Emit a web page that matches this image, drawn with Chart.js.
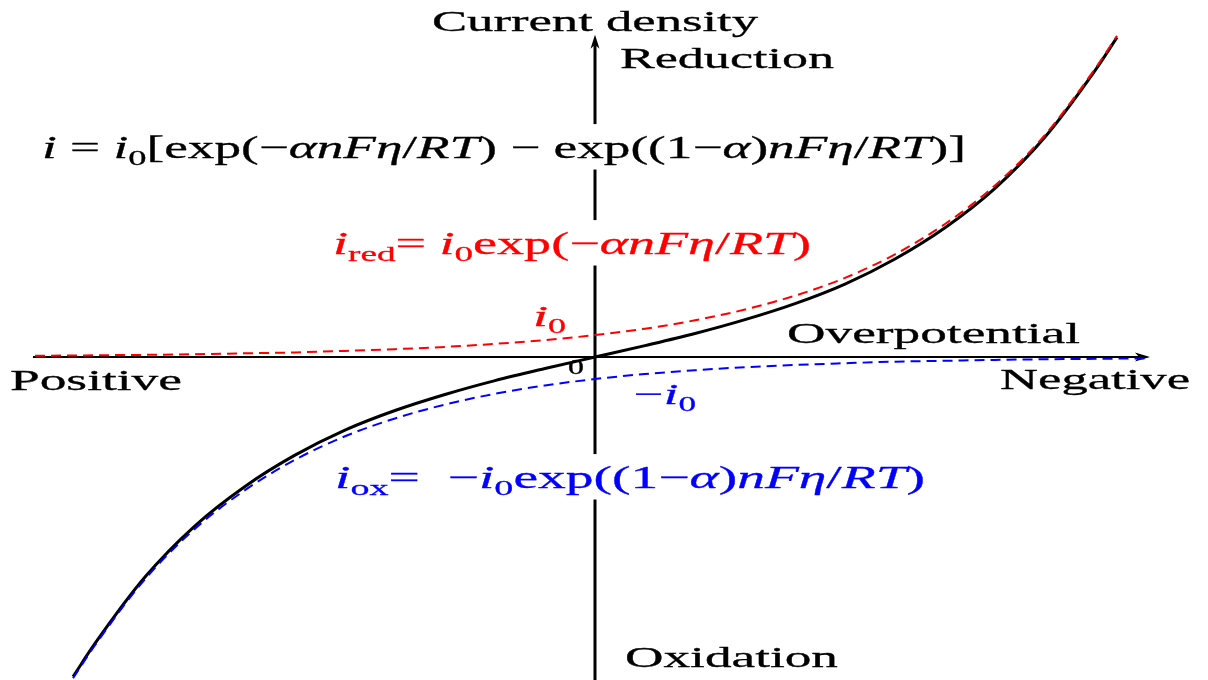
<!DOCTYPE html>
<html>
<head>
<meta charset="utf-8">
<script src="https://cdn.jsdelivr.net/npm/chart.js@4"></script>
<style>
  html, body { margin: 0; padding: 0; background: #fff; }
  #wrap { width: 1208px; height: 680px; position: relative; }
</style>
</head>
<body>
<div id="wrap"><canvas id="bv"></canvas></div>
<script>
// overpotential (V), positive to the left, negative to the right
const eta = [0.56, 0.522, 0.50, 0.45, 0.40, 0.35, 0.30, 0.25, 0.20, 0.15, 0.10, 0.05, 0,
  -0.05, -0.10, -0.15, -0.20, -0.25, -0.30, -0.35, -0.40, -0.45, -0.50, -0.522, -0.555];

// currents in units of i0
const iRed = [0.06, 0.07, 0.08, 0.10, 0.13, 0.17, 0.21, 0.28, 0.36, 0.46, 0.60, 0.77, 1.00,
  1.29, 1.67, 2.16, 2.79, 3.60, 4.67, 6.05, 7.80, 10.1, 13.1, 14.6, null];
const iOx = [null, -14.6, -13.1, -10.1, -7.80, -6.05, -4.67, -3.60, -2.79, -2.16, -1.67, -1.29, -1.00,
  -0.77, -0.60, -0.46, -0.36, -0.28, -0.21, -0.17, -0.13, -0.10, -0.08, -0.07, -0.06];
const iNet = [null, -14.53, -13.02, -10.0, -7.67, -5.88, -4.46, -3.32, -2.43, -1.70, -1.07, -0.52, 0,
  0.52, 1.07, 1.70, 2.43, 3.32, 4.46, 5.88, 7.67, 10.0, 13.02, 14.53, null];

// axis extents
const axisEta = [0.562, -0.555];
const axisCurrent = [-14.7, 14.65];

const serif = '"Liberation Serif", "DejaVu Serif", serif';

function pts(ys) {
  return eta.map((x, i) => ({ x, y: ys[i] }));
}

// rich text labels: parts with italic / subscript runs
const labels = [
  { x: 432, y: 31, w: 326, size: 30, color: '#000', parts: [{ t: 'Current density' }] },
  { x: 620, y: 68, w: 214, size: 30, color: '#000', parts: [{ t: 'Reduction' }] },
  { x: 42, y: 158, w: 924, size: 32, color: '#000', bg: true, parts: [
    { t: 'i', it: 1 }, { t: ' = ' }, { t: 'i', it: 1 }, { t: '0', sub: 1 }, { t: '[exp(−' },
    { t: 'αnFη', it: 1 }, { t: '/' }, { t: 'RT', it: 1 }, { t: ') − exp((1−' }, { t: 'α', it: 1 },
    { t: ')' }, { t: 'nFη', it: 1 }, { t: '/' }, { t: 'RT', it: 1 }, { t: ')]' }] },
  { x: 333, y: 254, w: 478, size: 32, color: '#ff0000', bg: true, parts: [
    { t: 'i', it: 1 }, { t: 'red', sub: 1 }, { t: '= ' }, { t: 'i', it: 1 }, { t: '0', sub: 1 },
    { t: 'exp(−' }, { t: 'αnFη', it: 1 }, { t: '/' }, { t: 'RT', it: 1 }, { t: ')' }] },
  { x: 533, y: 326, w: 33, size: 30, color: '#ff0000', parts: [{ t: 'i', it: 1 }, { t: '0', sub: 1 }] },
  { x: 787, y: 343, w: 293, size: 30, color: '#000', parts: [{ t: 'Overpotential' }] },
  { x: 10, y: 390, w: 172, size: 30, color: '#000', parts: [{ t: 'Positive' }] },
  { x: 1000, y: 389, w: 190, size: 30, color: '#000', parts: [{ t: 'Negative' }] },
  { x: 568, y: 374, w: 16, size: 20, color: '#000', parts: [{ t: '0' }] },
  { x: 634, y: 404, w: 62, size: 30, color: '#0000ff', parts: [{ t: '−' }, { t: 'i', it: 1 }, { t: '0', sub: 1 }] },
  { x: 335, y: 488, w: 590, size: 32, color: '#0000ff', bg: true, parts: [
    { t: 'i', it: 1 }, { t: 'ox', sub: 1 }, { t: '=  −' }, { t: 'i', it: 1 }, { t: '0', sub: 1 },
    { t: 'exp((1−' }, { t: 'α', it: 1 }, { t: ')' }, { t: 'nFη', it: 1 }, { t: '/' }, { t: 'RT', it: 1 }, { t: ')' }] },
  { x: 625, y: 667, w: 213, size: 30, color: '#000', parts: [{ t: 'Oxidation' }] }
];

function fontFor(p, size) {
  const s = p.sub ? Math.round(size * 0.68) : size;
  return (p.it ? 'italic ' : '') + s + 'px ' + serif;
}

function drawLabel(ctx, lbl) {
  let natural = 0;
  const widths = lbl.parts.map(p => {
    ctx.font = fontFor(p, lbl.size);
    const w = ctx.measureText(p.t).width;
    natural += w;
    return w;
  });
  const sx = lbl.w / natural;
  ctx.save();
  ctx.translate(lbl.x, lbl.y);
  ctx.scale(sx, 1);
  ctx.fillStyle = lbl.color;
  ctx.strokeStyle = lbl.color;
  ctx.lineWidth = 0.3;
  ctx.lineJoin = 'round';
  ctx.textBaseline = 'alphabetic';
  let cx = 0;
  lbl.parts.forEach((p, i) => {
    ctx.font = fontFor(p, lbl.size);
    const dy = p.sub ? lbl.size * 0.22 : 0;
    ctx.fillText(p.t, cx, dy);
    ctx.strokeText(p.t, cx, dy);
    cx += widths[i];
  });
  ctx.restore();
}

const axesPlugin = {
  id: 'bvAxes',
  beforeDatasetsDraw(chart) {
    const { ctx, scales: { x, y } } = chart;
    const x0 = x.getPixelForValue(0);
    const y0 = y.getPixelForValue(0);
    const xl = x.getPixelForValue(axisEta[0]);
    const xr = x.getPixelForValue(axisEta[1]);
    const yb = y.getPixelForValue(axisCurrent[0]);
    const yt = y.getPixelForValue(axisCurrent[1]);
    ctx.save();
    ctx.fillStyle = '#000';
    ctx.strokeStyle = '#000';

    // overpotential axis
    ctx.lineWidth = 2;
    ctx.beginPath();
    ctx.moveTo(xl, y0);
    ctx.lineTo(xr - 6, y0);
    ctx.stroke();
    ctx.beginPath();
    ctx.moveTo(xr, y0);
    ctx.lineTo(xr - 15, y0 - 4.5);
    ctx.lineTo(xr - 11, y0);
    ctx.lineTo(xr - 15, y0 + 4.5);
    ctx.closePath();
    ctx.fill();

    // current axis
    ctx.lineWidth = 3;
    ctx.beginPath();
    ctx.moveTo(x0, yb);
    ctx.lineTo(x0, yt + 6);
    ctx.stroke();
    ctx.beginPath();
    ctx.moveTo(x0, yt);
    ctx.lineTo(x0 - 4.5, yt + 14);
    ctx.lineTo(x0, yt + 10);
    ctx.lineTo(x0 + 4.5, yt + 14);
    ctx.closePath();
    ctx.fill();

    // formula boxes cut the current axis
    ctx.fillStyle = '#fff';
    labels.filter(l => l.bg).forEach(l => {
      ctx.fillRect(l.x - 4, l.y - l.size * 1.06, l.w + 8, l.size * 1.42);
    });
    ctx.restore();
  },
  afterDatasetsDraw(chart) {
    const ctx = chart.ctx;
    labels.forEach(l => drawLabel(ctx, l));
  }
};

new Chart(document.getElementById('bv'), {
  type: 'line',
  data: {
    datasets: [
      {
        label: 'i_red',
        data: pts(iRed),
        borderColor: '#ff0000',
        borderWidth: 2,
        borderDash: [10, 6],
        pointRadius: 0,
        cubicInterpolationMode: 'monotone'
      },
      {
        label: 'i_ox',
        data: pts(iOx),
        borderColor: '#0000ff',
        borderWidth: 2,
        borderDash: [10, 6],
        pointRadius: 0,
        cubicInterpolationMode: 'monotone'
      },
      {
        label: 'i',
        data: pts(iNet),
        borderColor: '#000',
        borderWidth: 3,
        pointRadius: 0,
        cubicInterpolationMode: 'monotone'
      }
    ]
  },
  options: {
    responsive: true,
    maintainAspectRatio: false,
    animation: false,
    layout: { padding: 0 },
    plugins: { legend: { display: false }, tooltip: { enabled: false } },
    scales: {
      x: { type: 'linear', reverse: true, min: -0.613, max: 0.595, display: false },
      y: { type: 'linear', min: -14.68, max: 16.23, display: false }
    }
  },
  plugins: [axesPlugin]
});
</script>
</body>
</html>
